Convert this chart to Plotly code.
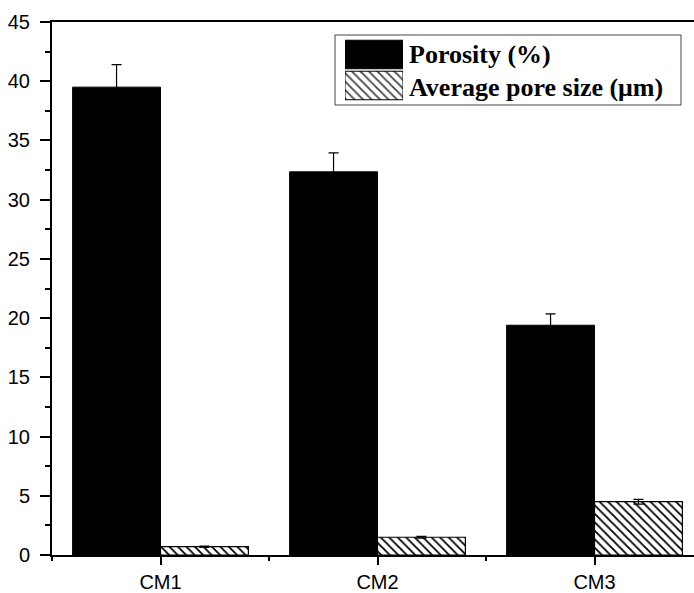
import plotly.graph_objects as go

categories = ["CM1", "CM2", "CM3"]
porosity = [39.5, 32.35, 19.4]
porosity_err = [1.9, 1.6, 0.95]
pore_size = [0.7, 1.5, 4.5]
pore_size_err = [0.05, 0.08, 0.2]
legend_labels = ["Porosity (%)", "Average pore size (\u03bcm)"]
y_ticks = [0, 5, 10, 15, 20, 25, 30, 35, 40, 45]

W, H = 694, 593
L, R, T, B = 52, 0, 22, 38
pw, ph = W - L - R, H - T - B

def px(x):
    return (x - L) / pw

def py(y):
    return (H - B - y) / ph

xpos = list(range(len(categories)))
hatch = dict(shape="\\", fgcolor="black", bgcolor="white", size=6, solidity=0.3, fgopacity=1)

fig = go.Figure()
fig.add_trace(go.Bar(
    x=xpos, y=porosity, name=legend_labels[0],
    marker=dict(color="black", line=dict(color="black", width=1)),
    error_y=dict(type="data", array=porosity_err, color="black", thickness=1.2, width=5),
    showlegend=False,
))
fig.add_trace(go.Bar(
    x=xpos, y=pore_size, name=legend_labels[1],
    marker=dict(color="white", line=dict(color="black", width=1.2), pattern=hatch),
    error_y=dict(type="data", array=pore_size_err, color="black", thickness=1.2, width=5),
    showlegend=False,
))

# custom legend swatches
fig.add_trace(go.Bar(
    x=[1, 1], y=[1, 0], orientation="h", xaxis="x2", yaxis="y2",
    marker=dict(color=["black", "white"], line=dict(color="black", width=1),
                pattern=dict(shape=["", "\\"], fgcolor="black", bgcolor="white",
                             size=6, solidity=0.3, fgopacity=1)),
    width=0.92, showlegend=False, hoverinfo="skip",
))

fig.update_layout(
    width=W, height=H,
    margin=dict(l=L, r=R, t=T, b=B),
    paper_bgcolor="white", plot_bgcolor="white",
    barmode="group", bargap=0.19, bargroupgap=0,
    font=dict(family="Liberation Sans, Arial", size=20, color="black"),
    xaxis=dict(
        range=[-0.5, -0.5 + pw / 217.0], tickvals=xpos, ticktext=categories,
        showline=True, linecolor="black", linewidth=2, mirror=True,
        ticks="outside", ticklen=8, tickwidth=1.5, tickcolor="black",
        minor=dict(tick0=0.5, dtick=1, ticks="outside", ticklen=4, tickwidth=1.5, tickcolor="black"),
        showgrid=False, zeroline=False,
    ),
    yaxis=dict(
        range=[0, 45], tickvals=y_ticks,
        showline=True, linecolor="black", linewidth=2,
        ticks="outside", ticklen=10, tickwidth=1.5, tickcolor="black",
        ticklabelstandoff=6,
        minor=dict(tick0=0, dtick=2.5, ticks="outside", ticklen=5, tickwidth=1.5, tickcolor="black"),
        showgrid=False, zeroline=False,
    ),
    xaxis2=dict(domain=[px(345), px(403)], range=[0, 1], visible=False, anchor="y2", fixedrange=True),
    yaxis2=dict(domain=[py(101), py(39)], range=[-0.5, 1.5], visible=False, anchor="x2", fixedrange=True),
    shapes=[dict(type="rect", xref="paper", yref="paper",
                 x0=px(335), x1=px(681), y0=py(105), y1=py(35),
                 line=dict(color="#444", width=1), fillcolor="white", layer="below")],
    annotations=[
        dict(text="<b>%s</b>" % legend_labels[0], xref="paper", yref="paper",
             x=px(407), y=py(55), xanchor="left", yanchor="middle", showarrow=False,
             font=dict(family="Liberation Serif, Times New Roman", size=26, color="black")),
        dict(text="<b>%s</b>" % legend_labels[1], xref="paper", yref="paper",
             x=px(407), y=py(87), xanchor="left", yanchor="middle", showarrow=False,
             font=dict(family="Liberation Serif, Times New Roman", size=26, color="black")),
    ],
)

fig.write_html("out.html")
